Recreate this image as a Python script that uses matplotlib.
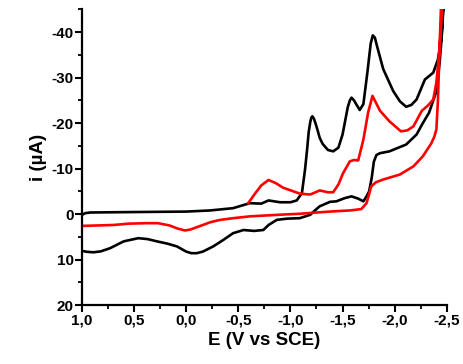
import matplotlib
matplotlib.use("Agg")
import matplotlib.pyplot as plt

# black scan: forward (cathodic) branch then return branch
black_E = [1.0, 0.97, 0.92, 0.5, 0.0, -0.23, -0.45, -0.61, -0.72, -0.79, -0.9, -1.0, -1.06, -1.11,
           -1.14, -1.16, -1.175, -1.19, -1.2, -1.21, -1.225, -1.24, -1.26, -1.28, -1.31, -1.36,
           -1.41, -1.46, -1.5, -1.55, -1.57, -1.586, -1.61, -1.63, -1.665, -1.7, -1.74, -1.77,
           -1.79, -1.81, -1.83, -1.89, -1.985, -2.05, -2.11, -2.16, -2.21, -2.29, -2.37,
           -2.415, -2.45, -2.47,
           -2.465, -2.45, -2.43, -2.4, -2.33, -2.27, -2.21, -2.11, -1.95, -1.86, -1.825, -1.8,
           -1.78, -1.755, -1.73, -1.7, -1.65, -1.586, -1.52, -1.44, -1.38, -1.28, -1.23, -1.19,
           -1.09, -0.97, -0.87, -0.79, -0.74, -0.65, -0.55, -0.45, -0.355, -0.26, -0.16, -0.1,
           -0.05, 0.0, 0.09, 0.18, 0.28, 0.37, 0.46, 0.6, 0.73, 0.82, 0.89, 0.95, 1.0]
black_i = [0.2, -0.2, -0.35, -0.45, -0.55, -0.8, -1.3, -2.4, -2.3, -3.0, -2.6, -2.6, -3.0, -4.6,
           -9.8, -14.2, -18.0, -20.2, -21.2, -21.5, -21.0, -20.0, -18.5, -16.8, -15.4, -14.1,
           -13.8, -14.6, -17.5, -23.5, -25.0, -25.6, -25.0, -24.2, -22.9, -24.2, -31.5, -37.5,
           -39.3, -38.8, -37.0, -31.9, -27.1, -24.8, -23.6, -24.0, -25.2, -29.6, -31.1,
           -34.0, -39.0, -46.0,
           -46.0, -38.5, -33.0, -27.0, -22.3, -20.0, -17.5, -15.3, -13.8, -13.4, -13.0, -11.5,
           -8.0, -5.0, -3.9, -2.8, -3.4, -3.9, -3.5, -2.8, -2.7, -1.7, -0.7, 0.15,
           0.9, 1.0, 1.26, 2.4, 3.5, 3.7, 3.5, 4.2, 5.7, 7.1, 8.25, 8.6,
           8.6, 8.25, 7.1, 6.5, 6.0, 5.5, 5.3, 6.0, 7.5, 8.2, 8.4, 8.3, 8.1]

# red scan: starts near -0.6 V going cathodic, returns to 1.0 V
red_E = [-0.595, -0.66, -0.72, -0.79, -0.86, -0.93, -1.09, -1.19, -1.28, -1.36, -1.41, -1.46,
         -1.505, -1.57, -1.61, -1.65, -1.7, -1.745, -1.787, -1.82, -1.86, -1.95, -2.06, -2.12,
         -2.18, -2.26, -2.32, -2.37, -2.4, -2.43, -2.45, -2.46,
         -2.445, -2.43, -2.415, -2.4, -2.38, -2.35, -2.27, -2.18, -2.05, -1.89, -1.82, -1.775,
         -1.75, -1.73, -1.68, -1.57, -1.41, -1.25, -1.09, -0.93, -0.61, -0.45, -0.32, -0.23,
         -0.1, -0.04, 0.012, 0.08, 0.16, 0.27, 0.38, 0.55, 0.7, 0.85, 1.0]
red_i = [-2.4, -4.5, -6.3, -7.5, -6.8, -5.8, -4.5, -4.3, -5.2, -4.8, -4.8, -6.5,
         -9.0, -11.6, -11.9, -11.8, -16.4, -22.3, -26.0, -24.5, -22.7, -20.4, -18.2, -18.4,
         -19.3, -22.7, -23.9, -25.2, -28.9, -36.3, -43.0, -46.0,
         -46.0, -36.0, -25.0, -18.6, -17.0, -15.5, -12.7, -10.5, -8.7, -7.6, -7.0, -6.1,
         -4.0, -2.4, -1.1, -0.8, -0.6, -0.35, -0.07, 0.1, 0.5, 0.9, 1.3, 1.8,
         2.9, 3.4, 3.6, 3.2, 2.5, 2.0, 2.0, 2.1, 2.4, 2.5, 2.6]

x_ticks = [1.0, 0.5, 0.0, -0.5, -1.0, -1.5, -2.0, -2.5]
x_labels = ['1,0', '0,5', '0,0', '-0,5', '-1,0', '-1,5', '-2,0', '-2,5']
y_ticks = [-40, -30, -20, -10, 0, 10, 20]
y_labels = ['-40', '-30', '-20', '-10', '0', '10', '20']

plt.rcParams['font.family'] = ['Liberation Sans', 'DejaVu Sans']
plt.rcParams['font.weight'] = 'bold'

fig = plt.figure(figsize=(4.63, 3.64), dpi=100)
ax = fig.add_axes([0.177, 0.162, 0.788, 0.812])

ax.plot(black_E, black_i, color='black', lw=1.9, solid_joinstyle='round')
ax.plot(red_E, red_i, color='#ff0000', lw=1.9, solid_joinstyle='round')

ax.set_xlim(1.0, -2.5)
ax.set_ylim(20, -45)

ax.spines['top'].set_visible(False)
ax.spines['right'].set_visible(False)
ax.spines['left'].set_linewidth(1.6)
ax.spines['bottom'].set_linewidth(1.6)

ax.set_xticks(x_ticks)
ax.set_xticklabels(x_labels)
ax.set_yticks(y_ticks)
ax.set_yticklabels(y_labels)
ax.set_xticks([0.75, 0.25, -0.25, -0.75, -1.25, -1.75, -2.25], minor=True)
ax.set_yticks([-45, -35, -25, -15, -5, 5, 15], minor=True)
ax.tick_params(which='major', direction='out', length=5, width=1.5, labelsize=11, pad=1)
ax.tick_params(which='minor', direction='out', length=3, width=1.3)

ax.set_xlabel('E (V vs SCE)', fontsize=13.5, fontweight='bold', labelpad=3)
ax.set_ylabel('i (µA)', fontsize=13.5, fontweight='bold', labelpad=3)

fig.savefig('out.png', dpi=100)
